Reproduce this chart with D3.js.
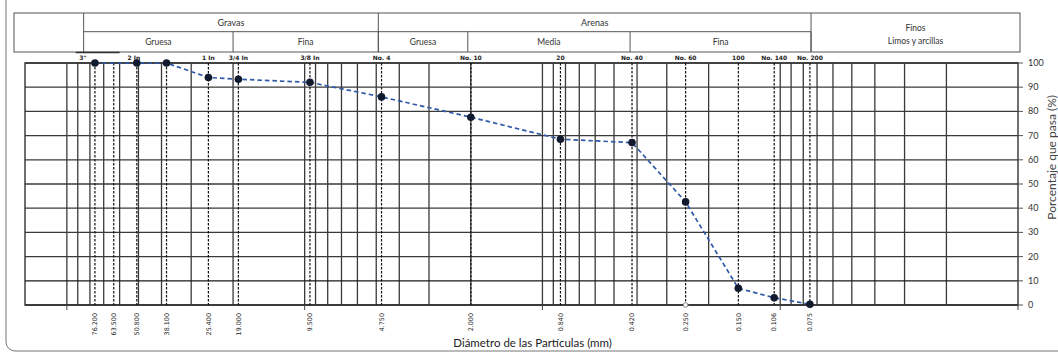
<!DOCTYPE html>
<html>
<head>
<meta charset="utf-8">
<script src="https://cdn.jsdelivr.net/npm/d3@7"></script>
<style>
  body { margin: 0; background: #fff; }
  svg { display: block; font-family: Lato, "Open Sans", sans-serif; }
</style>
</head>
<body>
<svg id="chart" width="1058" height="353"></svg>
<script>
// sieve openings (mm) with a dashed reference line
const sieveSizes = [76.2, 63.5, 50.8, 38.1, 25.4, 19.0, 9.5, 4.75, 2.0, 0.84, 0.42, 0.25, 0.15, 0.106, 0.075];
const sieveBottomLabels = ["76.200", "63.500", "50.800", "38.100", "25.400", "19.000", "9.500", "4.750", "2.000", "0.840", "0.420", "0.250", "0.150", "0.106", "0.075"];

// sieve names written above the plot
const sieveNameSizes = [76.2, 50.8, 25.4, 19.0, 9.5, 4.75, 2.0, 0.84, 0.42, 0.25, 0.15, 0.106, 0.075];
const sieveNames = ['3"', "2 In", "1 In", "3/4 In", "3/8 In", "No. 4", "No. 10", "20", "No. 40", "No. 60", "100", "No. 140", "No. 200"];

// grading curve
const curveSizes = [76.2, 50.8, 38.1, 25.4, 19.0, 9.5, 4.75, 2.0, 0.84, 0.42, 0.25, 0.15, 0.106, 0.075];
const curvePassing = [100, 100, 100, 94, 93.3, 92, 86, 77.6, 68.5, 67.1, 42.6, 6.9, 3.0, 0.3];

const yTicks = [0, 10, 20, 30, 40, 50, 60, 70, 80, 90, 100];

// header table: top row groups and bottom row sub groups (bounds in mm)
const groupNames = ["Gravas", "Arenas"];
const groupBounds = [[85, 4.9], [4.9, 0.0742]];
const subNames = ["Gruesa", "Fina", "Gruesa", "Media", "Fina"];
const subBounds = [[85, 20], [20, 4.9], [4.9, 2.06], [2.06, 0.428], [0.428, 0.0742]];
const finesLines = ["Finos", "Limos y arcillas"];

const svg = d3.select("#chart");
const W = 1058, H = 353;

const x = d3.scaleLog().domain([150, 0.01]).range([25, 1018]);
const y = d3.scaleLinear().domain([0, 100]).range([305, 63]);

// outer rounded frame
svg.append("rect")
  .attr("x", 6).attr("y", -12)
  .attr("width", W + 20).attr("height", 363)
  .attr("rx", 9)
  .attr("fill", "none")
  .attr("stroke", "#777")
  .attr("stroke-width", 1);

// ---- header table ----
const tTop = 13, tMid = 31.7, tBot = 52;
const tLeft = 14, tRight = 1020;
const hdr = svg.append("g").attr("stroke", "#555").attr("stroke-width", 1).attr("fill", "none");
hdr.append("rect").attr("x", tLeft).attr("y", tTop).attr("width", tRight - tLeft).attr("height", tBot - tTop);
// horizontal middle rule across gravel + sand
hdr.append("line")
  .attr("x1", x(groupBounds[0][0])).attr("x2", x(groupBounds[1][1]))
  .attr("y1", tMid).attr("y2", tMid);
// full height dividers
[groupBounds[0][0], groupBounds[0][1], groupBounds[1][1]].forEach(v => {
  hdr.append("line").attr("x1", x(v)).attr("x2", x(v)).attr("y1", tTop).attr("y2", tBot);
});
// sub dividers
subBounds.forEach(b => {
  hdr.append("line").attr("x1", x(b[1])).attr("x2", x(b[1])).attr("y1", tMid).attr("y2", tBot);
});
// short dark rule under the 3" label
svg.append("line")
  .attr("x1", x(85) - 8).attr("x2", x(60))
  .attr("y1", tBot + 0.5).attr("y2", tBot + 0.5)
  .attr("stroke", "#333").attr("stroke-width", 1.6);

svg.selectAll("text.group")
  .data(groupNames)
  .join("text")
  .attr("class", "group")
  .attr("x", (d, i) => (x(groupBounds[i][0]) + x(groupBounds[i][1])) / 2)
  .attr("y", (tTop + tMid) / 2 + 3.5)
  .attr("text-anchor", "middle")
  .attr("font-size", 9)
  .attr("fill", "#333")
  .text(d => d);

svg.selectAll("text.sub")
  .data(subNames)
  .join("text")
  .attr("class", "sub")
  .attr("x", (d, i) => (x(subBounds[i][0]) + x(subBounds[i][1])) / 2)
  .attr("y", (tMid + tBot) / 2 + 3)
  .attr("text-anchor", "middle")
  .attr("font-size", 8.5)
  .attr("fill", "#333")
  .text(d => d);

svg.selectAll("text.fines")
  .data(finesLines)
  .join("text")
  .attr("class", "fines")
  .attr("x", (x(groupBounds[1][1]) + tRight) / 2)
  .attr("y", (d, i) => 30.5 + i * 13)
  .attr("text-anchor", "middle")
  .attr("font-size", 8.5)
  .attr("fill", "#333")
  .text(d => d);

// ---- grid ----
const grid = svg.append("g");
const logTicks = x.ticks().filter(v => v > 0.0101 && v < 150);
grid.selectAll("line.v")
  .data(logTicks)
  .join("line")
  .attr("x1", d => x(d)).attr("x2", d => x(d))
  .attr("y1", y(100)).attr("y2", y(0))
  .attr("stroke", "#3a3a3a").attr("stroke-width", 1.3);

grid.selectAll("line.h")
  .data(yTicks)
  .join("line")
  .attr("x1", x(150)).attr("x2", x(0.01))
  .attr("y1", d => y(d)).attr("y2", d => y(d))
  .attr("stroke", d => (d <= 10 ? "#1a1a1a" : "#3a3a3a")).attr("stroke-width", 1.3);

// plot border
svg.append("rect")
  .attr("x", x(150)).attr("y", y(100))
  .attr("width", x(0.01) - x(150)).attr("height", y(0) - y(100))
  .attr("fill", "none").attr("stroke", "#333").attr("stroke-width", 1.4);

// major ticks below the axis
svg.selectAll("line.major")
  .data([100, 10, 1, 0.1, 0.01])
  .join("line")
  .attr("x1", d => x(d)).attr("x2", d => x(d))
  .attr("y1", y(0)).attr("y2", y(0) + 5)
  .attr("stroke", "#444");

// sieve dashed lines
svg.selectAll("line.sieve")
  .data(sieveSizes)
  .join("line")
  .attr("x1", d => x(d)).attr("x2", d => x(d))
  .attr("y1", y(100)).attr("y2", y(0))
  .attr("stroke", "#111").attr("stroke-width", 1.2)
  .attr("stroke-dasharray", "2.5,1.5");

// sieve names above (the 3" mark sits left of its line)
svg.selectAll("text.sname")
  .data(sieveNames)
  .join("text")
  .attr("x", (d, i) => x(sieveNameSizes[i]))
  .attr("dx", (d, i) => (i === 0 ? -12 : i === 1 ? -3 : 0))
  .attr("y", 59.5)
  .attr("text-anchor", "middle")
  .attr("font-family", "'DejaVu Sans', sans-serif")
  .attr("font-size", 6)
  .attr("font-weight", "bold")
  .attr("fill", "#222")
  .text(d => d);

// sieve openings below (rotated)
svg.selectAll("text.sbot")
  .data(sieveBottomLabels)
  .join("text")
  .attr("transform", (d, i) => `translate(${x(sieveSizes[i]) + 2.2},${y(0) + 8}) rotate(-90)`)
  .attr("text-anchor", "end")
  .attr("font-family", "'DejaVu Sans', sans-serif")
  .attr("font-size", 6.4)
  .attr("fill", "#222")
  .text(d => d);

// y axis on the right
svg.selectAll("line.ytick")
  .data(yTicks)
  .join("line")
  .attr("x1", x(0.01)).attr("x2", x(0.01) + 5)
  .attr("y1", d => y(d)).attr("y2", d => y(d))
  .attr("stroke", "#555");
svg.selectAll("text.ytick")
  .data(yTicks)
  .join("text")
  .attr("x", x(0.01) + 10)
  .attr("y", d => y(d) + 3)
  .attr("font-size", 9)
  .attr("fill", "#333")
  .text(d => d);

svg.append("text")
  .attr("transform", `translate(${x(0.01) + 38},${y(61)}) rotate(-90)`)
  .attr("text-anchor", "middle")
  .attr("font-size", 12)
  .attr("fill", "#444")
  .text("Porcentaje que pasa (%)");

svg.append("text")
  .attr("x", x(1.1))
  .attr("y", 347)
  .attr("text-anchor", "middle")
  .attr("font-size", 11.5)
  .attr("fill", "#222")
  .text("Diámetro de las Partículas (mm)");

// ---- grading curve ----
const pts = curveSizes.map((s, i) => [s, curvePassing[i]]);
svg.append("path")
  .datum(pts)
  .attr("fill", "none")
  .attr("stroke", "#2f5aa8")
  .attr("stroke-width", 1.7)
  .attr("stroke-dasharray", "4.5,3")
  .attr("d", d3.line().x(d => x(d[0])).y(d => y(d[1])));

// stray hollow marker at the 0.250 line on the axis
svg.append("circle")
  .attr("cx", x(0.25)).attr("cy", y(0)).attr("r", 2.3)
  .attr("fill", "#fff").attr("stroke", "#888");

svg.selectAll("circle.pt")
  .data(pts)
  .join("circle")
  .attr("cx", d => x(d[0]))
  .attr("cy", d => y(d[1]))
  .attr("r", 3.8)
  .attr("fill", "#111a2e");
</script>
</body>
</html>
